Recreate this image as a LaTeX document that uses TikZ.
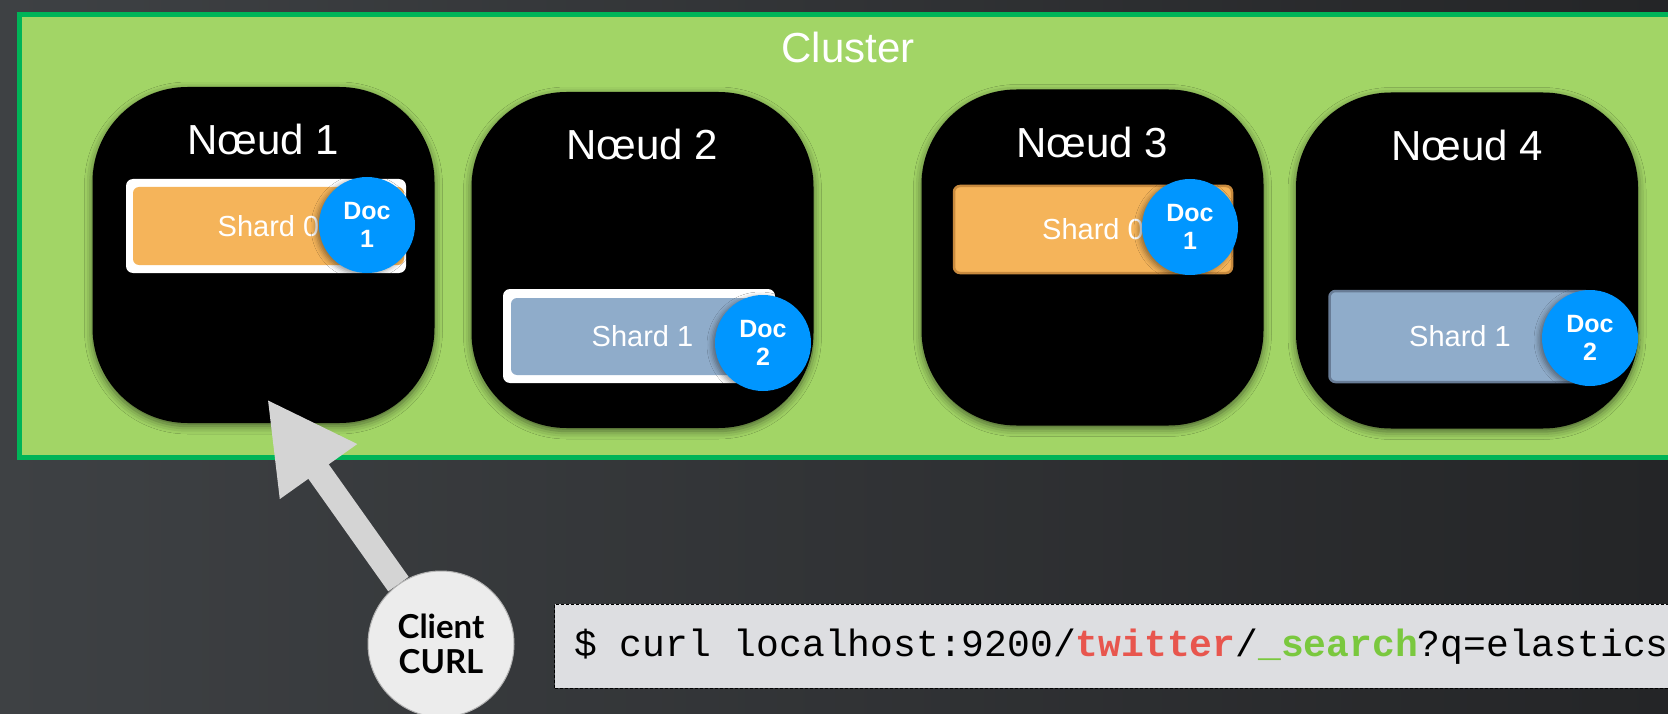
\documentclass[tikz,border=0pt]{standalone}
\usepackage{fontspec}
\setmainfont{Liberation Sans}
\setmonofont{Liberation Mono}
\newfontfamily\clientfont{Lato}
\usepackage{xcolor}
\usepackage{tikz}
\usetikzlibrary{arrows.meta,positioning,shadows.blur}
\definecolor{bgleft}{RGB}{62,65,68}
\definecolor{bgright}{RGB}{36,37,39}
\definecolor{clusterfill}{RGB}{162,213,102}
\definecolor{clusterline}{RGB}{0,180,88}
\definecolor{shardorange}{RGB}{245,180,90}
\definecolor{orangeedge}{RGB}{200,138,62}
\definecolor{shardblue}{RGB}{143,172,202}
\definecolor{blueedge}{RGB}{104,124,150}
\definecolor{docblue}{RGB}{0,150,255}
\definecolor{cmdgray}{RGB}{221,222,225}
\definecolor{twitterred}{RGB}{232,86,78}
\definecolor{searchgreen}{RGB}{122,200,62}
\definecolor{arrowgray}{RGB}{212,212,212}
\definecolor{clientgray}{RGB}{236,236,236}

\begin{document}
\begin{tikzpicture}[
  x=1pt, y=-1pt,
  clusterbox/.style={draw=clusterline, line width=5pt, fill=clusterfill,
                     minimum width=1700pt, minimum height=442pt, inner sep=0pt},
  clustertitle/.style={text=white, font=\fontsize{42}{48}\selectfont},
  nodebox/.style={fill=black, rounded corners=95pt, minimum width=342pt,
                  minimum height=336pt, inner sep=0pt,
                  blur shadow={shadow xshift=0pt, shadow yshift=-3pt,
                               shadow blur radius=8pt, shadow opacity=55}},
  nodetitle/.style={text=white, font=\fontsize{42}{48}\selectfont},
  shardframe/.style={fill=white, rounded corners=7pt, inner sep=0pt},
  shard/.style={fill=#1, rounded corners=6pt, inner sep=0pt, text=white,
                font=\fontsize{29}{34}\selectfont},
  doc/.style={circle, fill=docblue, minimum size=96pt, inner sep=0pt,
              align=center, text=white, font=\bfseries\fontsize{25}{28}\selectfont,
              blur shadow={shadow xshift=-3pt, shadow yshift=-2pt,
                           shadow blur radius=5pt, shadow opacity=40}},
  client/.style={circle, fill=clientgray, draw=gray!60, line width=1pt,
                 minimum size=146pt, inner sep=0pt, align=center,
                 font=\clientfont\bfseries\fontsize{33}{35}\selectfont},
  pointer/.style={-{Triangle[length=89pt,width=88pt]}, line width=25pt, draw=arrowgray},
  cmdbox/.style={fill=cmdgray, draw=black, densely dashed, line width=1pt,
                 minimum width=1200pt, minimum height=84pt, inner sep=0pt},
  cmdtext/.style={inner sep=0pt, font=\ttfamily\fontsize{38}{44}\selectfont}
]
\useasboundingbox (0,0) rectangle (1668,714);
\clip (0,0) rectangle (1668,714);
\shade[left color=bgleft, right color=bgright] (0,0) rectangle (1668,714);

% cluster
\node[clusterbox, anchor=north west] (cluster) at (16.5,12.5) {};
\node[clustertitle] (clustername) at (848,47) {Cluster};

% nodes of the cluster
\foreach \i/\x/\y in {1/263.5/255, 2/642.5/260, 3/1092.5/257.5, 4/1467/260.5} {
  \node[nodebox] (n\i) at (\x,\y) {};
  \node[nodetitle] (t\i) at ([yshift=-53pt]n\i.north) {Nœud \i};
}

% shards
\node[shardframe, minimum width=280pt, minimum height=94pt] (f1) at (266,226) {};
\node[shard=shardorange, minimum width=271pt, minimum height=78pt] (s1) at (268.5,226) {Shard 0};
\node[shardframe, minimum width=272pt, minimum height=94pt] (f2) at (639,336) {};
\node[shard=shardblue, minimum width=263pt, minimum height=77pt] (s2) at (642.5,336.5) {Shard 1};
\node[shard=shardorange, draw=orangeedge, line width=2.5pt,
      minimum width=278pt, minimum height=87pt] (s3) at (1093,229.5) {Shard 0};
\node[shard=shardblue, draw=blueedge, line width=2.5pt,
      minimum width=261pt, minimum height=91pt] (s4) at (1460,336.5) {Shard 1};

% documents
\node[doc] (d1) at (367,225) {Doc\\1};
\node[doc] (d2) at (763,343) {Doc\\2};
\node[doc] (d3) at (1190,227) {Doc\\1};
\node[doc] (d4) at (1590,338) {Doc\\2};

% client and request
\node[client] (client) at (441,644) {Client\\CURL};
\coordinate (tip) at (267,399);
\draw[pointer] (client) -- (tip);

\node[cmdbox, anchor=west] (cmd) at (554,646) {};
\node[cmdtext, anchor=base west] (request) at (574,656)
  {\$ curl localhost:9200/\textcolor{twitterred}{\textbf{twitter}}/\textcolor{searchgreen}{\textbf{\_search}}?q=elasticsearch};
\end{tikzpicture}
\end{document}
